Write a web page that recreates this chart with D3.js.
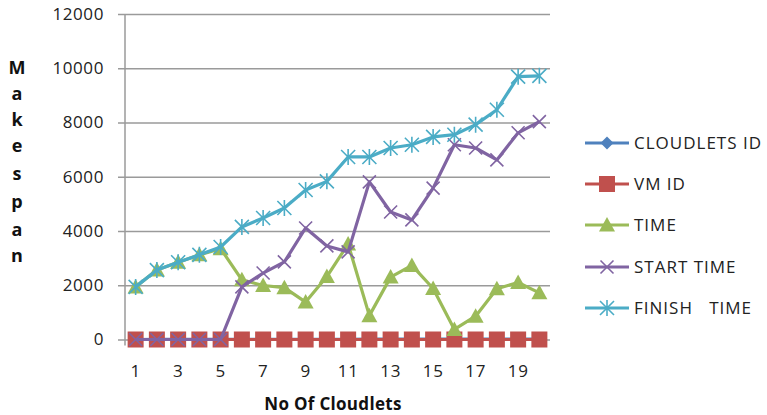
<!DOCTYPE html>
<html>
<head>
<meta charset="utf-8">
<script src="https://cdn.jsdelivr.net/npm/d3@7"></script>
<style>
  body { margin: 0; background: #fff; }
  svg { display: block; }
  text { font-family: "Open Sans", "Liberation Sans", sans-serif; }
</style>
</head>
<body>
<svg id="chart" width="767" height="415"></svg>
<script>
// Cloudlet scheduling results: one point per cloudlet
const cloudlets = [1,2,3,4,5,6,7,8,9,10,11,12,13,14,15,16,17,18,19,20];
const cloudletIds = [0,1,2,3,4,5,6,7,8,9,10,11,12,13,14,15,16,17,18,19];
const vmIds = [0,0,0,0,0,0,0,0,0,0,0,0,0,0,0,0,0,0,0,0];
const execTime = [1940,2560,2850,3120,3350,2200,1990,1910,1380,2320,3520,880,2300,2730,1880,370,860,1870,2100,1720];
const startTime = [0,0,0,0,0,1940,2450,2860,4110,3450,3230,5810,4700,4410,5580,7180,7060,6620,7620,8030];
const finishTime = [1940,2560,2850,3120,3410,4150,4480,4850,5510,5830,6730,6730,7060,7180,7470,7550,7920,8470,9690,9720];
const yTicks = [0,2000,4000,6000,8000,10000,12000];
const xTickLabels = [1,3,5,7,9,11,13,15,17,19];

const series = [
  { name: "CLOUDLETS ID", values: cloudletIds, color: "#4F81BD", marker: "diamond" },
  { name: "VM ID", values: vmIds, color: "#C0504D", marker: "square" },
  { name: "TIME", values: execTime, color: "#9BBB59", marker: "triangle" },
  { name: "START TIME", values: startTime, color: "#8064A2", marker: "cross" },
  { name: "FINISH   TIME", values: finishTime, color: "#4BACC6", marker: "star" }
];

const svg = d3.select("#chart");
const plot = { left: 125, right: 550, top: 14, bottom: 339.5 };

const x = d3.scaleBand().domain(cloudlets).range([plot.left, plot.right]);
const y = d3.scaleLinear().domain([0, 12000]).range([plot.bottom, plot.top]);
const cx = d => x(d) + x.bandwidth() / 2;

// gridlines with short outer ticks
const yAxis = d3.axisLeft(y).tickValues(yTicks).tickFormat(d3.format("d"))
  .tickSize(-(plot.right - plot.left)).tickPadding(21);
const gy = svg.append("g").attr("transform", `translate(${plot.left},0)`).call(yAxis);
gy.select(".domain").remove();
gy.selectAll(".tick line").attr("x1", -7).attr("stroke", "#9a9a9a").attr("stroke-width", 1.5);
gy.selectAll(".tick text").attr("fill", "#222").style("font-size", "17px").style("letter-spacing", "0.6px");

// vertical axis line
svg.append("line")
  .attr("x1", plot.left).attr("x2", plot.left)
  .attr("y1", y(12000)).attr("y2", plot.bottom + 6)
  .attr("stroke", "#9a9a9a").attr("stroke-width", 1.5);

// category labels
const xAxis = d3.axisBottom(x).tickValues(xTickLabels).tickSize(0).tickPadding(25);
const gx = svg.append("g").attr("transform", `translate(0,${plot.bottom})`).call(xAxis);
gx.select(".domain").remove();
gx.selectAll(".tick text").attr("fill", "#222").style("font-size", "17px").style("letter-spacing", "0.6px");

// axis titles
svg.append("text")
  .attr("x", 333).attr("y", 410)
  .attr("text-anchor", "middle")
  .style("font-size", "17px").style("font-weight", "bold").attr("fill", "#111")
  .style("letter-spacing", "0.3px")
  .text("No Of Cloudlets");

const yTitle = "Makespan".split("");
const yTitleY = [68, 94, 120, 146, 174, 202, 230, 256];
svg.append("g").selectAll("text").data(yTitle).join("text")
  .attr("x", 17).attr("y", (d, i) => yTitleY[i] + 6)
  .attr("text-anchor", "middle")
  .style("font-size", "18px").style("font-weight", "bold").attr("fill", "#111")
  .text(d => d);

// marker shapes
function drawMarker(g, type, color, px, py) {
  if (type === "diamond") {
    g.append("path").attr("d", `M${px},${py-6.5}L${px+6.5},${py}L${px},${py+6.5}L${px-6.5},${py}Z`).attr("fill", color);
  } else if (type === "square") {
    g.append("rect").attr("x", px - 8).attr("y", py - 8).attr("width", 16).attr("height", 16).attr("fill", color);
  } else if (type === "triangle") {
    g.append("path").attr("d", `M${px},${py-8}L${px+8},${py+6.5}L${px-8},${py+6.5}Z`).attr("fill", color);
  } else if (type === "cross") {
    const r = 6.5;
    g.append("path").attr("d", `M${px-r},${py-r}L${px+r},${py+r}M${px-r},${py+r}L${px+r},${py-r}`)
      .attr("stroke", color).attr("stroke-width", 1.6).attr("fill", "none");
  } else if (type === "star") {
    const r = 7;
    g.append("path").attr("d", `M${px-r},${py-r}L${px+r},${py+r}M${px-r},${py+r}L${px+r},${py-r}M${px},${py-r-1}L${px},${py+r+1}`)
      .attr("stroke", color).attr("stroke-width", 1.6).attr("fill", "none");
  }
}

const line = d3.line().x((d, i) => cx(cloudlets[i])).y(d => y(d));

series.forEach(s => {
  const g = svg.append("g");
  g.append("path").datum(s.values).attr("d", line)
    .attr("fill", "none").attr("stroke", s.color).attr("stroke-width", 3.2)
    .attr("stroke-linejoin", "round");
  s.values.forEach((v, i) => drawMarker(g, s.marker, s.color, cx(cloudlets[i]), y(v)));
});

// legend
const legendY = [143, 184, 225, 267, 308];
series.forEach((s, i) => {
  const g = svg.append("g");
  const ly = legendY[i];
  g.append("line").attr("x1", 585).attr("x2", 629).attr("y1", ly).attr("y2", ly)
    .attr("stroke", s.color).attr("stroke-width", 3);
  drawMarker(g, s.marker, s.color, 607, ly);
  g.append("text").attr("x", 634).attr("y", ly + 6)
    .style("font-size", "17px").style("letter-spacing", "1px").attr("fill", "#222")
    .attr("xml:space", "preserve")
    .text(s.name);
});
</script>
</body>
</html>
